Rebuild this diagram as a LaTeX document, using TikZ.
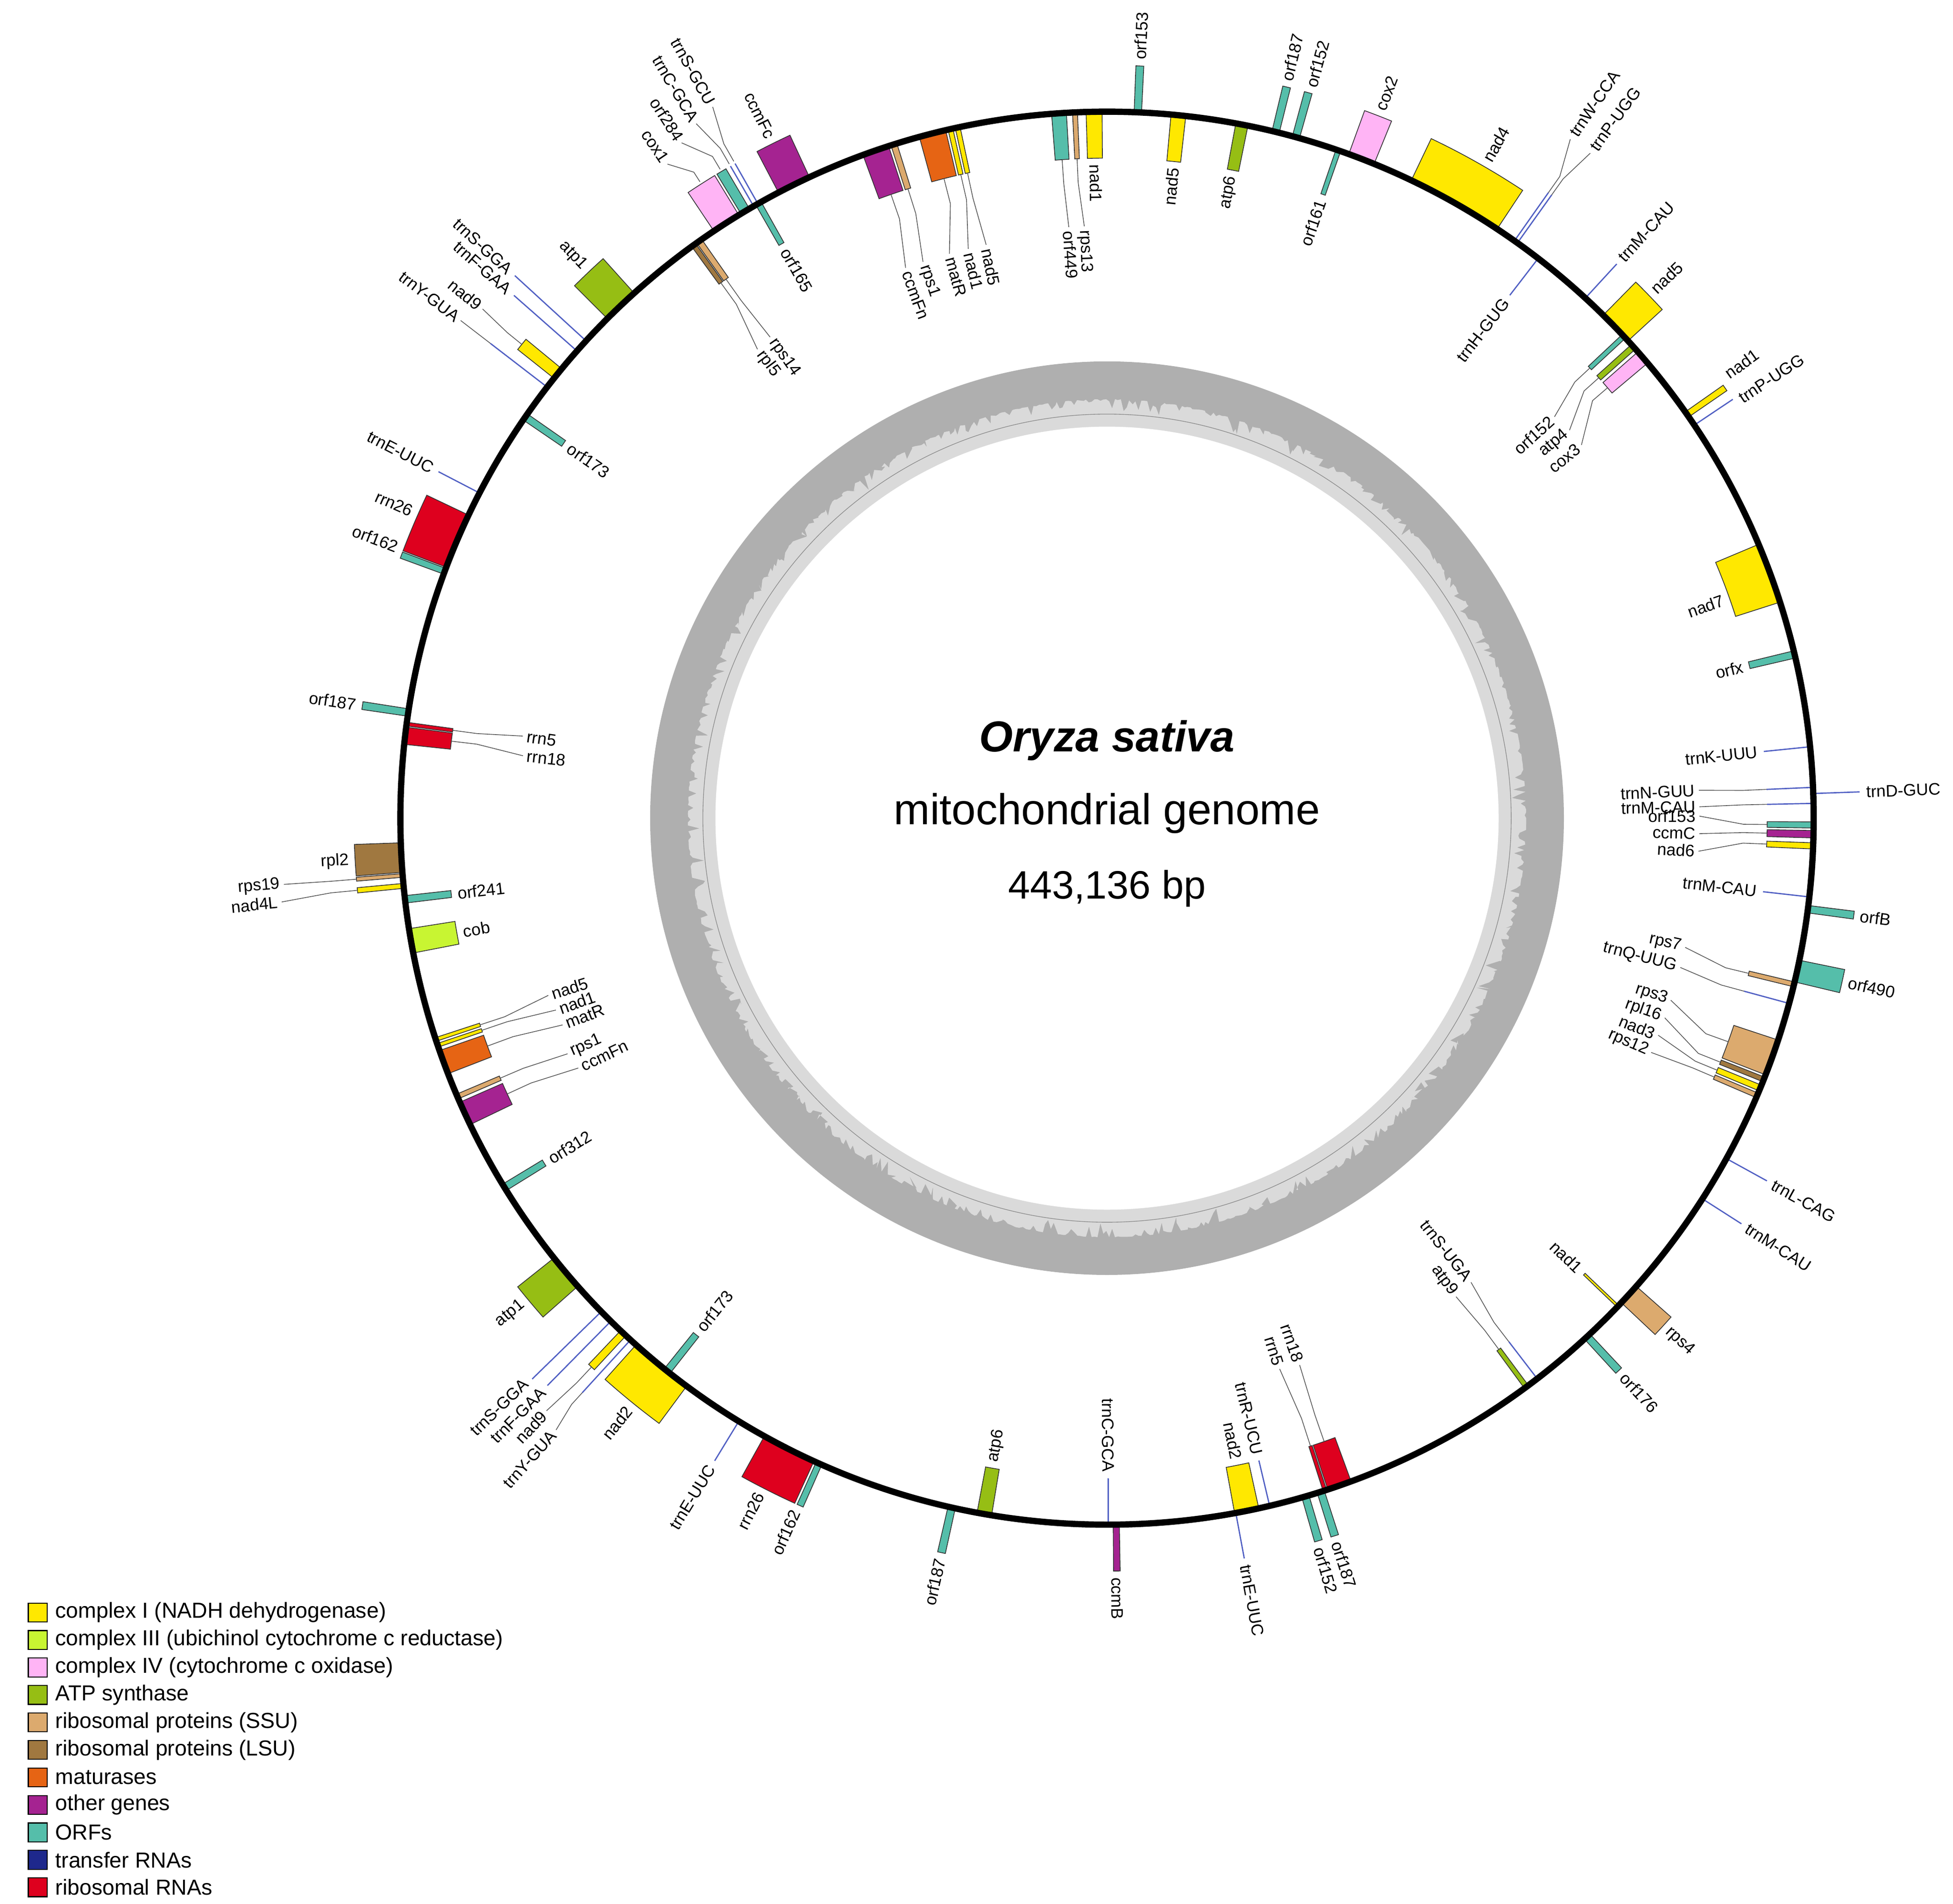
\documentclass[tikz,border=0pt]{standalone}
\usepackage{fontspec}
\setmainfont{Liberation Sans}
\newcounter{lab}
\definecolor{cI}{RGB}{255,232,0}
\definecolor{cIII}{RGB}{200,245,50}
\definecolor{cIV}{RGB}{255,180,245}
\definecolor{atp}{RGB}{150,190,20}
\definecolor{ssu}{RGB}{220,170,110}
\definecolor{lsu}{RGB}{160,120,64}
\definecolor{mat}{RGB}{230,100,20}
\definecolor{oth}{RGB}{165,35,145}
\definecolor{orfc}{RGB}{85,190,170}
\definecolor{trn}{RGB}{30,40,140}
\definecolor{trnl}{RGB}{80,95,195}
\definecolor{rrna}{RGB}{222,0,30}
\definecolor{gcdark}{RGB}{175,175,175}
\definecolor{gclight}{RGB}{218,218,218}
\tikzset{
 lbl/.style={inner sep=1pt,font=\fontsize{13.3}{14}\selectfont},
 leader/.style={draw=black!65,line width=0.6pt},
 trnaline/.style={draw=trnl,line width=1pt},
 legtext/.style={anchor=west,inner sep=0pt,font=\fontsize{17.3}{19}\selectfont},
 legbox/.style={draw=black,line width=0.8pt,minimum size=15pt,inner sep=0pt}
}
\newcommand\gene[4]{%
 \if#3o\def\Grr{600}\else\def\Grr{526}\fi
 \pgfmathsetmacro\GA{90-#1}\pgfmathsetmacro\GB{90-#2}%
 \filldraw[fill=#4,draw=black!80,line width=0.6pt] (\GA:563) arc[start angle=\GA,end angle=\GB,radius=563] -- (\GB:\Grr) arc[start angle=\GB,end angle=\GA,radius=\Grr] -- cycle;}
\newcommand\trna[2]{\pgfmathsetmacro\GA{90-#1}\draw[trnaline] (\GA:563) -- (\GA:#2);}
\newcommand\lead[4]{\pgfmathsetmacro\LA{90-#1}\pgfmathsetmacro\LB{90-#3}\pgfmathsetmacro\LM{#2+0.35*(#4-#2)}%
 \draw[leader] (\LA:#2) -- (\LA:\LM) -- (\LB:#4);}
\newcommand\lab[4]{%
 \pgfmathsetmacro\Lang{90-#1}%
 \pgfmathsetmacro\Lrot{#1<180 ? 90-#1 : 270-#1}%
 \pgfmathtruncatemacro\Lrgt{#1<180 ? 1 : 0}%
 \ifnum\Lrgt=#3 \def\Lanc{west}\else\def\Lanc{east}\fi
 \stepcounter{lab}%
 \node[lbl,anchor=\Lanc,rotate=\Lrot] (lab\thelab) at (\Lang:#2) {#4};}
\begin{document}
\begin{tikzpicture}[x=1pt,y=1pt]
\useasboundingbox (-882,-865) rectangle (674,652);
% GC ring
\pgfmathsetseed{7}
\fill[gcdark] (0,0) circle (364);
\fill[gclight] plot[domain=0:360,samples=900] (\x:{334-12*rnd^5}) -- cycle;
\fill[white] (0,0) circle (312);
\draw[black!45,line width=0.5pt] (0,0) circle (322);
% title
\node[font=\fontsize{34.5}{36}\selectfont\bfseries\itshape] (t1) at (0,62) {Oryza sativa};
\node[font=\fontsize{34.5}{36}\selectfont] (t2) at (0,4) {mitochondrial genome};
\node[font=\fontsize{31.5}{33}\selectfont] (t3) at (0,-56) {443,136 bp};
% genes
\gene{2.2}{2.8}{o}{orfc}\lab{2.5}{604}{1}{orf153}
\gene{358.3}{359.6}{i}{cI}\lab{359}{522}{0}{nad1}
\gene{357.2}{357.6}{i}{ssu}\lead{357.4}{526}{357.8}{472}\lab{357.8}{470}{0}{rps13}
\gene{355.5}{356.7}{i}{orfc}\lead{356.1}{526}{356.3}{472}\lab{356.3}{470}{0}{orf449}
\gene{339.8}{342.0}{i}{oth}\gene{342.2}{342.7}{i}{ssu}\gene{344.6}{346.8}{i}{mat}
\gene{347.0}{347.4}{i}{cI}\gene{347.6}{348.0}{i}{cI}
\lead{340.9}{526}{339.9}{467}\lab{339.9}{465}{0}{ccmFn}
\lead{342.45}{526}{341.7}{467}\lab{341.7}{465}{0}{rps1}
\lead{345.7}{526}{344.4}{467}\lab{344.4}{465}{0}{matR}
\lead{347.2}{526}{346.3}{467}\lab{346.3}{465}{0}{nad1}
\lead{347.8}{526}{348.1}{467}\lab{348.1}{465}{0}{nad5}
\gene{332.3}{335.1}{o}{oth}\lab{333.7}{604}{1}{ccmFc}
\gene{326.2}{328.6}{o}{cIV}\gene{328.8}{329.6}{o}{orfc}\trna{330.0}{600}\trna{330.4}{600}
\gene{330.2}{330.7}{i}{orfc}\lab{330.5}{522}{0}{orf165}
\lead{327.4}{602}{326.1}{628}\lab{326.1}{630}{1}{cox1}
\lead{329.2}{602}{327.8}{636}\lab{327.8}{638}{1}{orf284}
\lead{330.0}{602}{329.4}{643}\lab{329.4}{645}{1}{trnC-GCA}
\lead{330.4}{602}{331}{648}\lab{331}{650}{1}{trnS-GCU}
\gene{324.0}{324.4}{i}{lsu}\gene{324.5}{325.0}{i}{ssu}
\lead{324.2}{526}{323.3}{466}\lab{323.3}{464}{0}{rpl5}
\lead{324.75}{526}{325}{468}\lab{325}{466}{0}{rps14}
\gene{315}{318}{o}{atp}\lab{316.5}{604}{1}{atp1}
\trna{312.5}{640}\lab{312.5}{644}{1}{trnS-GGA}
\trna{311.4}{630}\lab{311.4}{634}{1}{trnF-GAA}
\gene{308.5}{309.5}{o}{cI}\lead{309}{600}{309.2}{642}\lab{309.2}{644}{1}{nad9}
\trna{307.6}{620}\lead{307.6}{620}{307.6}{650}\lab{307.6}{652}{1}{trnY-GUA}
\gene{304.3}{304.9}{i}{orfc}\lab{304.6}{522}{0}{orf173}
\trna{297.4}{600}\lab{297.4}{604}{1}{trnE-UUC}
\gene{290.8}{295.4}{o}{rrna}\gene{290.2}{290.7}{o}{orfc}
\lab{293.8}{604}{1}{rrn26}\lab{290.9}{604}{1}{orf162}
\gene{278.3}{278.9}{o}{orfc}\lab{278.6}{604}{1}{orf187}
\gene{276}{277.4}{i}{rrna}\gene{277.5}{277.8}{i}{rrna}
\lead{277.65}{526}{278}{470}\lab{278}{468}{0}{rrn5}
\lead{276.7}{526}{276.1}{468}\lab{276.1}{466}{0}{rrn18}
\gene{265.6}{268}{o}{lsu}\lab{266.8}{604}{1}{rpl2}
\gene{265.2}{265.5}{o}{ssu}\lead{265.35}{600}{265.4}{658}\lab{265.4}{660}{1}{rps19}
\gene{264.3}{264.7}{o}{cI}\lead{264.5}{600}{264.2}{661}\lab{264.2}{663}{1}{nad4L}
\gene{263.1}{263.7}{i}{orfc}\lab{263.4}{522}{0}{orf241}
\gene{259}{261}{i}{cIII}\lab{260}{522}{0}{cob}
\gene{251.6}{251.9}{i}{cI}\gene{251.1}{251.4}{i}{cI}\gene{248.8}{250.8}{i}{mat}
\lead{251.75}{526}{252.4}{467}\lab{252.4}{465}{0}{nad5}
\lead{251.25}{526}{250.8}{465}\lab{250.8}{463}{0}{nad1}
\lead{249.8}{526}{249.2}{464}\lab{249.2}{462}{0}{matR}
\gene{246.6}{247}{i}{ssu}\gene{244.3}{246.3}{i}{oth}
\lead{246.8}{526}{246.4}{469}\lab{246.4}{467}{0}{rps1}
\lead{245.3}{526}{244.7}{466}\lab{244.7}{464}{0}{ccmFn}
\gene{238.2}{238.8}{i}{orfc}\lab{238.5}{522}{0}{orf312}
\gene{228.5}{231.5}{o}{atp}\lab{230.3}{604}{1}{atp1}
\trna{225.7}{640}\lab{225.9}{644}{1}{trnS-GGA}
\trna{224.6}{635}\lab{224.6}{639}{1}{trnF-GAA}
\gene{222.9}{223.5}{o}{cI}\lead{223.2}{600}{223.4}{650}\lab{223.4}{652}{1}{nad9}
\trna{222.4}{620}\lead{222.4}{620}{222}{656}\lab{222}{658}{1}{trnY-GUA}
\gene{216.5}{221.8}{o}{cI}\lab{219}{604}{1}{nad2}
\gene{218.2}{218.8}{i}{orfc}\lab{218.5}{522}{0}{orf173}
\trna{211.4}{600}\lab{211.4}{604}{1}{trnE-UUC}
\gene{204.5}{209}{o}{rrna}\gene{203.8}{204.3}{o}{orfc}
\lab{207.2}{604}{1}{rrn26}\lab{204.2}{604}{1}{orf162}
\gene{192.4}{193}{o}{orfc}\lab{192.7}{604}{1}{orf187}
\gene{189.4}{190.6}{i}{atp}\lab{190}{522}{0}{atp6}
\trna{179.9}{526}\lab{179.9}{522}{0}{trnC-GCA}
\gene{179.0}{179.5}{o}{oth}\lab{179.25}{604}{1}{ccmB}
\gene{167.6}{169.6}{i}{cI}\lab{168.6}{522}{0}{nad2}
\trna{169.5}{600}\lab{169.5}{604}{1}{trnE-UUC}
\trna{166.7}{526}\lab{166.7}{522}{0}{trnR-UCU}
\gene{159.8}{161.8}{i}{rrna}\gene{161.9}{162.2}{i}{rrna}
\lead{160.8}{526}{160.6}{462}\lab{160.6}{460}{0}{rrn18}
\lead{162.05}{526}{162.6}{460}\lab{162.6}{458}{0}{rrn5}
\gene{162.1}{162.7}{o}{orfc}\lab{162.4}{604}{1}{orf187}
\gene{163.4}{164.0}{o}{orfc}\lab{163.8}{604}{1}{orf152}
\gene{143.4}{143.8}{i}{atp}\lead{143.6}{526}{143.9}{472}\lab{143.9}{470}{0}{atp9}
\trna{142.5}{526}\lead{142.5}{526}{141.9}{470}\lab{141.9}{468}{0}{trnS-UGA}
\gene{133.6}{133.8}{i}{cI}\lab{133.7}{522}{0}{nad1}
\gene{131.5}{133.3}{o}{ssu}\lab{132.4}{604}{1}{rps4}
\gene{136.9}{137.5}{o}{orfc}\lab{137.2}{604}{1}{orf176}
\trna{122.6}{600}\lab{122.6}{604}{1}{trnM-CAU}
\trna{118.8}{600}\lab{118.8}{604}{1}{trnL-CAG}
\gene{108.3}{111.3}{i}{ssu}\gene{111.5}{111.9}{i}{lsu}\gene{112.2}{112.7}{i}{cI}\gene{112.9}{113.3}{i}{ssu}
\lead{109.8}{526}{107.9}{472}\lab{107.9}{470}{0}{rps3}
\lead{111.7}{526}{109.7}{472}\lab{109.7}{470}{0}{rpl16}
\lead{112.45}{526}{111.5}{472}\lab{111.5}{470}{0}{nad3}
\lead{113.1}{526}{113.3}{472}\lab{113.3}{470}{0}{rps12}
\gene{103.4}{103.8}{i}{ssu}\trna{105.2}{526}
\lead{103.6}{526}{102.6}{472}\lab{102.6}{470}{0}{rps7}
\lead{105.2}{526}{104.6}{472}\lab{104.6}{470}{0}{trnQ-UUG}
\gene{101.6}{103.4}{o}{orfc}\lab{102.5}{604}{1}{orf490}
\gene{97.1}{97.7}{o}{orfc}\lab{97.4}{604}{1}{orfB}
\trna{96.4}{526}\lab{96.4}{522}{0}{trnM-CAU}
\trna{87.5}{526}\trna{88.8}{526}\gene{90.3}{90.8}{i}{orfc}\gene{91.0}{91.6}{i}{oth}\gene{92.0}{92.5}{i}{cI}
\lead{87.5}{526}{87.3}{472}\lab{87.3}{470}{0}{trnN-GUU}
\lead{88.8}{526}{88.9}{472}\lab{88.9}{470}{0}{trnM-CAU}
\lead{90.55}{526}{89.8}{472}\lab{89.8}{470}{0}{orf153}
\lead{91.3}{526}{91.5}{472}\lab{91.5}{470}{0}{ccmC}
\lead{92.25}{526}{93.2}{472}\lab{93.2}{470}{0}{nad6}
\trna{88}{600}\lab{88}{604}{1}{trnD-GUC}
\trna{84.2}{526}\lab{84.2}{522}{0}{trnK-UUU}
\gene{76.3}{76.9}{i}{orfc}\lab{76.6}{522}{0}{orfx}
\gene{67.2}{72.2}{i}{cI}\lab{70.5}{522}{0}{nad7}
\gene{54.9}{55.4}{o}{cI}\lab{54.4}{606}{1}{nad1}
\trna{56.2}{600}\lab{56.5}{604}{1}{trnP-UGG}
\gene{46.8}{47.2}{i}{orfc}\gene{47.9}{48.4}{i}{atp}\gene{48.7}{49.9}{i}{cIV}
\lead{47}{526}{48.1}{479}\lab{48.1}{477}{0}{orf152}
\lead{48.15}{526}{50.0}{481}\lab{50.0}{479}{0}{atp4}
\lead{49.3}{526}{51.8}{481}\lab{51.8}{479}{0}{cox3}
\gene{44.6}{47.5}{o}{cI}\lab{46}{604}{1}{nad5}
\trna{42.6}{600}\lab{42.6}{604}{1}{trnM-CAU}
\trna{37.6}{526}\lab{37.6}{522}{0}{trnH-GUG}
\trna{35.2}{610}\trna{35.5}{610}
\lead{35.2}{610}{34.3}{655}\lab{34.3}{658}{1}{trnW-CCA}
\lead{35.5}{610}{36.0}{655}\lab{36.0}{658}{1}{trnP-UGG}
\gene{25.5}{33.5}{o}{cI}\lab{30}{604}{1}{nad4}
\gene{20}{22.2}{o}{cIV}\lab{21.1}{604}{1}{cox2}
\gene{18.9}{19.3}{i}{orfc}\lab{19.1}{522}{0}{orf161}
\gene{15.2}{15.8}{o}{orfc}\lab{15.6}{604}{1}{orf152}
\gene{13.5}{14.1}{o}{orfc}\lab{13.7}{604}{1}{orf187}
\gene{10.5}{11.5}{i}{atp}\lab{11}{522}{0}{atp6}
\gene{5.2}{6.4}{i}{cI}\lab{5.8}{522}{0}{nad5}
% main circle
\draw[black,line width=5pt] (0,0) circle (563);
% legend
\foreach \c/\t [count=\i from 0] in {cI/complex I (NADH dehydrogenase),cIII/complex III (ubichinol cytochrome c reductase),cIV/complex IV (cytochrome c oxidase),atp/ATP synthase,ssu/ribosomal proteins (SSU),lsu/ribosomal proteins (LSU),mat/maturases,oth/other genes,orfc/ORFs,trn/transfer RNAs,rrna/ribosomal RNAs}{
 \node[legbox,fill=\c] (lb\i) at (-852,{-633-21.9*\i}) {};
 \node[legtext] (lt\i) at (-838,{-633-21.9*\i}) {\t};
}
\end{tikzpicture}
\end{document}
